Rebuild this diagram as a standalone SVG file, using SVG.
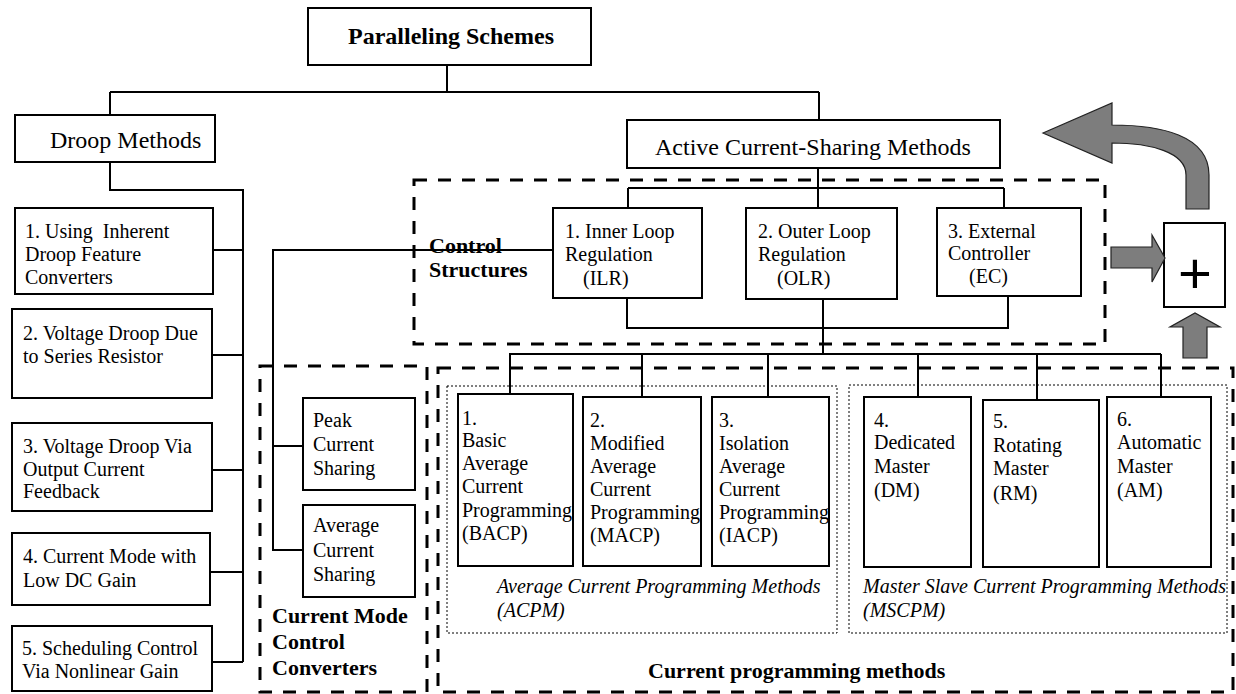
<svg xmlns="http://www.w3.org/2000/svg" width="1236" height="694" viewBox="0 0 1236 694">
  <style>
    .box { fill: #fff; stroke: #000; stroke-width: 2; }
    .wire { fill: none; stroke: #000; stroke-width: 2; }
    .dash { fill: none; stroke: #000; stroke-width: 3; stroke-dasharray: 13 11; }
    .dot { fill: none; stroke: #000; stroke-width: 1; stroke-dasharray: 2 2; }
    .t { font-family: "Liberation Serif", "Times New Roman", serif; font-size: 20px; fill: #000; }
    .big { font-family: "Liberation Serif", "Times New Roman", serif; font-size: 24px; fill: #000; }
    .bold { font-family: "Liberation Serif", "Times New Roman", serif; font-size: 22px; font-weight: bold; fill: #000; }
    .ital { font-family: "Liberation Serif", "Times New Roman", serif; font-size: 20px; font-style: italic; fill: #000; }
    .arrow { fill: #7d7d7d; stroke: #222; stroke-width: 1.2; }
  </style>

  <rect width="1236" height="694" fill="#fff"/>

  <!-- dashed grouping frames -->
  <g id="frames">
    <rect class="dash" x="414" y="180" width="691" height="164"/>
    <rect class="dash" x="260" y="366" width="167" height="326"/>
    <rect class="dash" x="438" y="368" width="795" height="324"/>
    <rect class="dot" x="447" y="386" width="390" height="247"/>
    <rect class="dot" x="849" y="385" width="378" height="248"/>
  </g>

  <!-- connectors -->
  <g id="connectors">
    <path class="wire" d="M447,65 V92 M110,92 H819 M110,92 V115 M819,92 V120"/>
    <path class="wire" d="M110,162 V190 H243 V662"/>
    <path class="wire" d="M213,250 H243 M212,355 H243 M212,470 H243 M210,572 H243 M212,662 H243"/>
    <path class="wire" d="M818,168 V208 M628,188 H1004 M628,188 V208 M1004,188 V208"/>
    <path class="wire" d="M553,250 H273 V550 H303 M273,446 H303"/>
    <path class="wire" d="M627,298 V328 H1008 V296 M823,300 V354"/>
    <path class="wire" d="M509,354 H1161 M510,354 V394 M642,354 V397 M768,354 V397 M918,354 V397 M1037,354 V400 M1161,354 V397"/>
  </g>

  <!-- root -->
  <g id="paralleling-schemes">
    <rect class="box" x="308" y="8" width="283" height="57"/>
    <text class="big" x="348" y="44" font-weight="bold">Paralleling Schemes</text>
  </g>

  <!-- droop branch -->
  <g id="droop-methods">
    <rect class="box" x="15" y="115" width="200" height="47"/>
    <text class="big" x="50" y="148">Droop Methods</text>
  </g>
  <g id="droop-1">
    <rect class="box" x="15" y="208" width="198" height="86"/>
    <text class="t"><tspan x="25" y="238">1. Using&#160; Inherent</tspan><tspan x="25" y="261">Droop Feature</tspan><tspan x="25" y="284">Converters</tspan></text>
  </g>
  <g id="droop-2">
    <rect class="box" x="12" y="309" width="200" height="89"/>
    <text class="t"><tspan x="23" y="340">2. Voltage Droop Due</tspan><tspan x="23" y="363">to Series Resistor</tspan></text>
  </g>
  <g id="droop-3">
    <rect class="box" x="12" y="423" width="200" height="88"/>
    <text class="t"><tspan x="23" y="453">3. Voltage Droop Via</tspan><tspan x="23" y="476">Output Current</tspan><tspan x="23" y="498">Feedback</tspan></text>
  </g>
  <g id="droop-4">
    <rect class="box" x="12" y="533" width="198" height="72"/>
    <text class="t"><tspan x="23" y="563">4. Current Mode with</tspan><tspan x="23" y="587">Low DC Gain</tspan></text>
  </g>
  <g id="droop-5">
    <rect class="box" x="12" y="626" width="200" height="65"/>
    <text class="t"><tspan x="22" y="655">5. Scheduling Control</tspan><tspan x="22" y="678">Via Nonlinear Gain</tspan></text>
  </g>

  <!-- active current-sharing branch -->
  <g id="active-current-sharing">
    <rect class="box" x="627" y="120" width="373" height="48"/>
    <text class="big" x="655" y="155" font-size="24.8">Active Current-Sharing Methods</text>
  </g>

  <g id="control-structures-label">
    <text class="bold"><tspan x="429" y="253">Control</tspan><tspan x="429" y="277">Structures</tspan></text>
  </g>
  <g id="ilr">
    <rect class="box" x="553" y="208" width="149" height="90"/>
    <text class="t"><tspan x="565" y="238">1. Inner Loop</tspan><tspan x="565" y="261">Regulation</tspan><tspan x="583" y="285">(ILR)</tspan></text>
  </g>
  <g id="olr">
    <rect class="box" x="746" y="208" width="151" height="91"/>
    <text class="t"><tspan x="758" y="238">2. Outer Loop</tspan><tspan x="758" y="261">Regulation</tspan><tspan x="777" y="285">(OLR)</tspan></text>
  </g>
  <g id="ec">
    <rect class="box" x="937" y="208" width="144" height="88"/>
    <text class="t"><tspan x="948" y="238">3. External</tspan><tspan x="948" y="260">Controller</tspan><tspan x="969" y="283">(EC)</tspan></text>
  </g>

  <!-- current mode control converters -->
  <g id="peak-current-sharing">
    <rect class="box" x="303" y="398" width="112" height="92"/>
    <text class="t"><tspan x="313" y="427">Peak</tspan><tspan x="313" y="451">Current</tspan><tspan x="313" y="475">Sharing</tspan></text>
  </g>
  <g id="average-current-sharing">
    <rect class="box" x="303" y="505" width="112" height="92"/>
    <text class="t"><tspan x="313" y="532">Average</tspan><tspan x="313" y="557">Current</tspan><tspan x="313" y="581">Sharing</tspan></text>
  </g>
  <g id="current-mode-label">
    <text class="bold"><tspan x="272" y="623">Current Mode</tspan><tspan x="272" y="649">Control</tspan><tspan x="272" y="675">Converters</tspan></text>
  </g>

  <!-- current programming methods -->
  <g id="bacp">
    <rect class="box" x="458" y="394" width="115" height="172"/>
    <text class="t"><tspan x="462" y="425">1.</tspan><tspan x="462" y="447">Basic</tspan><tspan x="462" y="470">Average</tspan><tspan x="462" y="493">Current</tspan><tspan x="462" y="517">Programming</tspan><tspan x="462" y="540">(BACP)</tspan></text>
  </g>
  <g id="macp">
    <rect class="box" x="583" y="397" width="118" height="169"/>
    <text class="t"><tspan x="590" y="427">2.</tspan><tspan x="590" y="450">Modified</tspan><tspan x="590" y="473">Average</tspan><tspan x="590" y="496">Current</tspan><tspan x="590" y="519">Programming</tspan><tspan x="590" y="542">(MACP)</tspan></text>
  </g>
  <g id="iacp">
    <rect class="box" x="712" y="397" width="117" height="169"/>
    <text class="t"><tspan x="719" y="427">3.</tspan><tspan x="719" y="450">Isolation</tspan><tspan x="719" y="473">Average</tspan><tspan x="719" y="496">Current</tspan><tspan x="719" y="519">Programming</tspan><tspan x="719" y="542">(IACP)</tspan></text>
  </g>
  <g id="dm">
    <rect class="box" x="864" y="397" width="107" height="170"/>
    <text class="t"><tspan x="874" y="427">4.</tspan><tspan x="874" y="449">Dedicated</tspan><tspan x="874" y="473">Master</tspan><tspan x="874" y="497">(DM)</tspan></text>
  </g>
  <g id="rm">
    <rect class="box" x="983" y="400" width="116" height="167"/>
    <text class="t"><tspan x="993" y="428">5.</tspan><tspan x="993" y="452">Rotating</tspan><tspan x="993" y="475">Master</tspan><tspan x="993" y="500">(RM)</tspan></text>
  </g>
  <g id="am">
    <rect class="box" x="1107" y="397" width="104" height="170"/>
    <text class="t"><tspan x="1117" y="426">6.</tspan><tspan x="1117" y="449">Automatic</tspan><tspan x="1117" y="473">Master</tspan><tspan x="1117" y="497">(AM)</tspan></text>
  </g>

  <g id="group-labels">
    <text class="ital"><tspan x="497" y="593">Average Current Programming Methods</tspan><tspan x="497" y="617">(ACPM)</tspan></text>
    <text class="ital"><tspan x="863" y="593">Master Slave Current Programming Methods</tspan><tspan x="863" y="617">(MSCPM)</tspan></text>
    <text class="bold" x="648" y="678">Current programming methods</text>
  </g>

  <!-- combination symbol with its feed arrows -->
  <g id="combine">
    <rect class="box" x="1164" y="223" width="61" height="84"/>
    <text x="1195" y="293" text-anchor="middle" font-family="Liberation Sans, Arial, sans-serif" font-size="58" fill="#000">+</text>
  </g>
  <g id="block-arrows">
    <path class="arrow" d="M1111,247 H1152 V235 L1165,258 L1152,282 V268 H1111 Z"/>
    <path class="arrow" d="M1183,358 V327 H1170 L1195,313 L1220,327 H1207 V358 Z"/>
    <path class="arrow" d="M1043,133 L1112,103 V125 C1160,125 1209,135 1209,175 V209 H1186 V175 C1186,152 1150,143 1112,143 V163 Z"/>
  </g>
</svg>
